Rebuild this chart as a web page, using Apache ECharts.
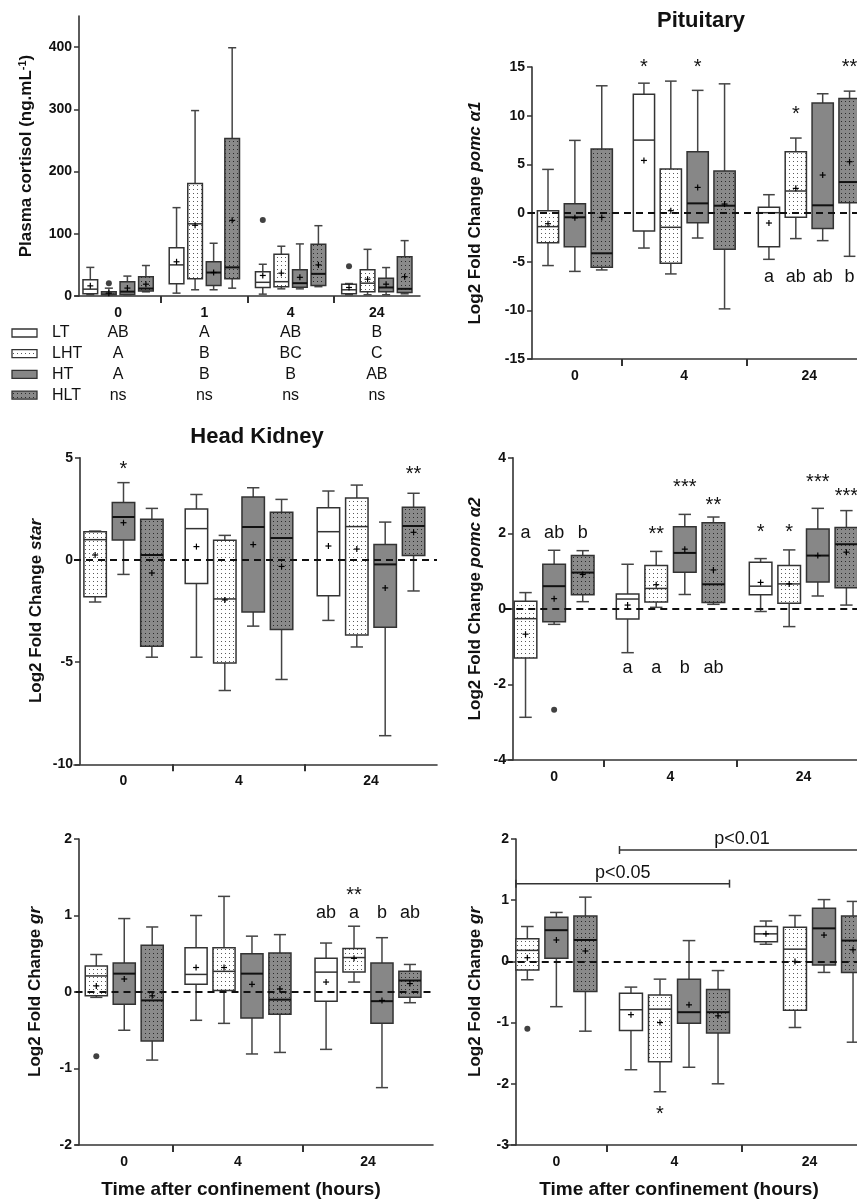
<!DOCTYPE html>
<html><head><meta charset="utf-8">
<script src="https://cdn.jsdelivr.net/npm/echarts@6/dist/echarts.min.js"></script>
<style>html,body{margin:0;padding:0;background:#fff}#c{width:857px;height:1201px}</style>
</head><body><div id="c"></div><script>
const FONT = "'Liberation Sans', Arial, Helvetica, sans-serif";
const TREAT = ['LT', 'LHT', 'HT', 'HLT'];

// Each box: [min, Q1, median, Q3, max, mean]; null = no box at that time
const cortisolTimes = ['0', '1', '4', '24'];
const cortisolLT  = [[2, 3.5, 11, 26, 46, 16.3], [4.6, 19.5, 50, 77.7, 142, 55], [3, 13.7, 22, 39, 51, 33], [2, 3.5, 10, 19, 20, 13.7]];
const cortisolLHT = [[2, 2, 4.6, 7, 12.6, 4.6], [10, 27.6, 116, 181, 298, 113.6], [11.5, 15, 23, 67, 80, 36.7], [2, 7, 20.6, 42, 75, 27]];
const cortisolHT  = [[2, 2.5, 7, 23, 32, 12.7], [10, 17, 37.7, 55, 84.8, 37.7], [11.5, 14, 20.6, 42, 83.7, 30], [2, 7, 13.7, 28.6, 45.7, 19]];
const cortisolHLT = [[6.7, 8, 12, 31, 49, 19], [12.6, 27.6, 46, 253, 399, 121.6], [15, 17, 35.6, 83, 113, 50], [3.5, 5.6, 11.5, 63, 89, 31]];
const cortisolOutliers = [[0, 1, 20.6], [2, 0, 122], [3, 0, 48]]; // [timeIdx, treatIdx, value]
const cortisolLetters = [['AB', 'A', 'AB', 'B'], ['A', 'B', 'BC', 'C'], ['A', 'B', 'B', 'AB'], ['ns', 'ns', 'ns', 'ns']];

const logTimes = ['0', '4', '24'];

const pomcA1LT  = [null, [-3.6, -1.85, 7.49, 12.2, 13.34, 5.4], [-4.76, -3.46, 0.03, 0.58, 1.88, -1.03]];
const pomcA1LHT = [[-5.4, -3.05, -1.4, 0.24, 4.48, -1.1], [-6.26, -5.17, -1.47, 4.52, 13.55, 0.24], [-2.63, -0.44, 2.26, 6.3, 7.7, 2.53]];
const pomcA1HT  = [[-6.0, -3.46, -0.44, 0.96, 7.46, -0.5], [-2.57, -1.0, 0.99, 6.3, 12.6, 2.63], [-2.84, -1.6, 0.79, 11.29, 12.25, 3.9]];
const pomcA1HLT = [[-5.85, -5.58, -4.14, 6.57, 13.07, -0.45], [-9.85, -3.73, 0.75, 4.31, 13.27, 0.92], [-4.45, 1.06, 3.18, 11.77, 12.52, 5.27]];
const pomcA1Notes = [[1, 0, 15.4, '*'], [1, 2, 15.4, '*'], [2, 1, 10.6, '*'], [2, 3, 15.4, '**'],
  [2, 0, -6.57, 'a'], [2, 1, -6.57, 'ab'], [2, 2, -6.57, 'ab'], [2, 3, -6.57, 'b']];

const starLT  = [null, [-4.76, -1.15, 1.53, 2.49, 3.2, 0.65], [-2.96, -1.75, 1.38, 2.55, 3.37, 0.68]];
const starLHT = [[-2.06, -1.8, 0.99, 1.38, 1.41, 0.24], [-6.39, -5.04, -1.91, 0.96, 1.2, -1.96], [-4.26, -3.67, 1.63, 3.03, 3.66, 0.53]];
const starHT  = [[-0.71, 0.97, 2.1, 2.81, 3.78, 1.82], [-3.24, -2.55, 1.61, 3.08, 3.53, 0.75], [-8.6, -3.3, -0.22, 0.75, 1.85, -1.37]];
const starHLT = [[-4.76, -4.23, 0.24, 1.99, 2.52, -0.64], [-5.85, -3.41, 1.07, 2.33, 2.96, -0.32], [-1.52, 0.21, 1.66, 2.57, 3.26, 1.35]];
const starNotes = [[0, 2, 4.66, '*'], [2, 3, 4.41, '**']];

const pomcA2LT  = [null, [-1.16, -0.27, 0.26, 0.39, 1.18, 0.1], [-0.07, 0.37, 0.6, 1.23, 1.33, 0.7]];
const pomcA2LHT = [[-2.87, -1.3, -0.26, 0.2, 0.43, -0.67], [0.04, 0.18, 0.54, 1.15, 1.52, 0.64], [-0.47, 0.15, 0.66, 1.15, 1.56, 0.66]];
const pomcA2HT  = [[-0.41, -0.34, 0.6, 1.18, 1.55, 0.27], [0.38, 0.97, 1.48, 2.17, 2.5, 1.58], [0.34, 0.71, 1.41, 2.11, 2.66, 1.41]];
const pomcA2HLT = [[0.19, 0.37, 0.96, 1.41, 1.54, 0.91], [0.12, 0.17, 0.65, 2.28, 2.43, 1.03], [0.1, 0.56, 1.71, 2.15, 2.6, 1.5]];
const pomcA2Outliers = [[0, 2, -2.67]];
const pomcA2Notes = [[0, 1, 2.01, 'a'], [0, 2, 2.01, 'ab'], [0, 3, 2.01, 'b'],
  [1, 1, 2.09, '**'], [1, 2, 3.33, '***'], [1, 3, 2.86, '**'],
  [2, 0, 2.14, '*'], [2, 1, 2.14, '*'], [2, 2, 3.47, '***'], [2, 3, 3.1, '***'],
  [1, 0, -1.56, 'a'], [1, 1, -1.56, 'a'], [1, 2, -1.56, 'b'], [1, 3, -1.56, 'ab']];

const grHKLT  = [null, [-0.37, 0.1, 0.23, 0.58, 1.0, 0.32], [-0.75, -0.12, 0.26, 0.44, 0.64, 0.13]];
const grHKLHT = [[-0.07, -0.05, 0.21, 0.34, 0.49, 0.08], [-0.41, 0.02, 0.27, 0.58, 1.25, 0.32], [0.13, 0.26, 0.45, 0.57, 0.86, 0.44]];
const grHKHT  = [[-0.5, -0.16, 0.24, 0.38, 0.96, 0.17], [-0.81, -0.34, 0.24, 0.5, 0.73, 0.1], [-1.25, -0.41, -0.12, 0.38, 0.71, -0.11]];
const grHKHLT = [[-0.89, -0.64, -0.11, 0.61, 0.85, -0.05], [-0.79, -0.29, -0.1, 0.51, 0.75, 0.04], [-0.14, -0.07, 0.15, 0.27, 0.36, 0.11]];
const grHKOutliers = [[0, 1, -0.84]];
const grHKNotes = [[2, 0, 1.03, 'ab'], [2, 1, 1.03, 'a'], [2, 2, 1.03, 'b'], [2, 3, 1.03, 'ab'], [2, 1, 1.32, '**']];

const grPitLT  = [null, [-1.77, -1.13, -0.79, -0.52, -0.42, -0.87], [0.28, 0.32, 0.45, 0.57, 0.66, 0.45]];
const grPitLHT = [[-0.3, -0.14, 0.18, 0.37, 0.57, 0.06], [-2.13, -1.64, -0.78, -0.55, -0.29, -1.0], [-1.08, -0.8, 0.2, 0.56, 0.75, 0.0]];
const grPitHT  = [[-0.74, 0.05, 0.51, 0.72, 0.8, 0.35], [-1.73, -1.01, -0.83, -0.29, 0.34, -0.71], [-0.18, -0.06, 0.54, 0.87, 1.01, 0.43]];
const grPitHLT = [[-1.14, -0.49, 0.35, 0.74, 1.05, 0.17], [-2.0, -1.17, -0.83, -0.46, -0.15, -0.89], [-1.32, -0.18, 0.34, 0.74, 0.98, 0.19]];
const grPitOutliers = [[0, 1, -1.1]];
const grPitNotes = [[1, 1, -2.43, '*']];
// [fromTime, fromTreat, toTime, toTreat, y, text]
const grPitBrackets = [[0, 1, 1, 3, 1.27, 'p<0.05'], [1, 0, 2, 3, 1.82, 'p<0.01']];

// ---------- styling / layout ----------
const SPACING = 0.86, BOX_W = 0.68;
function pat(bg, dot) {
  const c = document.createElement('canvas'); c.width = 4; c.height = 4;
  const g = c.getContext('2d'); g.fillStyle = bg; g.fillRect(0, 0, 4, 4);
  g.fillStyle = dot; g.fillRect(1, 1, 1, 1);
  return { image: c, repeat: 'repeat' };
}
const STYLE = [
  { fill: '#ffffff', stroke: '#333', med: '#333', medW: 1.5 },
  { fill: pat('#ffffff', '#5a5a5a'), stroke: '#333', med: '#333', medW: 1.5 },
  { fill: '#878787', stroke: '#333', med: '#111', medW: 2 },
  { fill: pat('#8a8a8a', '#2a2a2a'), stroke: '#333', med: '#111', medW: 2 }
];

const panels = [
  { times: cortisolTimes, series: [cortisolLT, cortisolLHT, cortisolHT, cortisolHLT], outliers: cortisolOutliers, notes: [], brackets: [],
    left: 75, slot: 21.56, top: 16, height: 280, yMin: 0, yMax: 450, yInt: 100, yOff: -4, nameGap: 44.5,
    name: 'Plasma cortisol (ng.mL{sup|-1})', zero: false, letters: cortisolLetters },
  { times: logTimes, series: [pomcA1LT, pomcA1LHT, pomcA1HT, pomcA1HLT], outliers: [], notes: pomcA1Notes, brackets: [],
    left: 528, slot: 31.25, top: 67, height: 292, yMin: -15, yMax: 15, yInt: 5, yOff: -4, nameGap: 48.5,
    name: 'Log2 Fold Change {i|pomc α1}', zero: true },
  { times: logTimes, series: [starLT, starLHT, starHT, starHLT], outliers: [], notes: starNotes, brackets: [],
    left: 74, slot: 33, top: 457.7, height: 306.6, yMin: -10, yMax: 5, yInt: 5, yOff: -6, nameGap: 35.5,
    name: 'Log2 Fold Change {i|star}', zero: true },
  { times: logTimes, series: [pomcA2LT, pomcA2LHT, pomcA2HT, pomcA2HLT], outliers: pomcA2Outliers, notes: pomcA2Notes, brackets: [],
    left: 504.25, slot: 33.25, top: 457.7, height: 302.3, yMin: -4, yMax: 4, yInt: 2, yOff: -8.75, nameGap: 29.5,
    name: 'Log2 Fold Change {i|pomc α2}', zero: true },
  { times: logTimes, series: [grHKLT, grHKLHT, grHKHT, grHKHLT], outliers: grHKOutliers, notes: grHKNotes, brackets: [],
    left: 75.5, slot: 32.5, top: 839, height: 306, yMin: -2, yMax: 2, yInt: 1, yOff: -3.5, nameGap: 35,
    name: 'Log2 Fold Change {i|gr}', zero: true },
  { times: logTimes, series: [grPitLT, grPitLHT, grPitHT, grPitHLT], outliers: grPitOutliers, notes: grPitNotes, brackets: grPitBrackets,
    left: 505.75, slot: 33.75, top: 839, height: 306, yMin: -3, yMax: 2, yInt: 1, yOff: -10.25, nameGap: 32.5,
    name: 'Log2 Fold Change {i|gr}', zero: true }
];

function layoutGroups(series) {
  const groups = []; let start = 0;
  for (let t = 0; t < series[0].length; t++) {
    const present = [];
    for (let k = 0; k < 4; k++) if (series[k][t]) present.push(k);
    groups.push({ start, n: present.length, present });
    start += present.length;
  }
  return { groups, total: start };
}
function boxPos(lay, t, k) {
  const g = lay.groups[t]; const j = g.present.indexOf(k);
  return g.start + g.n / 2 + (j - (g.n - 1) / 2) * SPACING;
}
function groupCenter(lay, t) { const g = lay.groups[t]; return g.start + g.n / 2; }

function line(x1, y1, x2, y2, stroke, lw, dash) {
  return { type: 'line', shape: { x1, y1, x2, y2 }, style: { stroke, lineWidth: lw, lineDash: dash || null } };
}
function renderBox(params, api) {
  const x = api.value(0);
  const P = v => api.coord([x, v]);
  const mn = P(api.value(1)), q1 = P(api.value(2)), md = P(api.value(3)), q3 = P(api.value(4)), mx = P(api.value(5)), mean = P(api.value(6));
  const st = STYLE[api.value(7)];
  const w = api.size([BOX_W, 0])[0]; const cw = w * 0.55; const cx = mn[0];
  return { type: 'group', children: [
    line(cx, q3[1], cx, mx[1], '#444', 1.5),
    line(cx - cw / 2, mx[1], cx + cw / 2, mx[1], '#444', 1.5),
    line(cx, q1[1], cx, mn[1], '#444', 1.5),
    line(cx - cw / 2, mn[1], cx + cw / 2, mn[1], '#444', 1.5),
    { type: 'rect', shape: { x: cx - w / 2, y: q3[1], width: w, height: q1[1] - q3[1] }, style: { fill: st.fill, stroke: st.stroke, lineWidth: 1.5 } },
    line(cx - w / 2, md[1], cx + w / 2, md[1], st.med, st.medW),
    line(mean[0] - 3, mean[1], mean[0] + 3, mean[1], '#000', 1.2),
    line(mean[0], mean[1] - 3, mean[0], mean[1] + 3, '#000', 1.2)
  ] };
}

const grid = [], xAxis = [], yAxis = [], series = [];
panels.forEach((p, i) => {
  const lay = layoutGroups(p.series);
  const N = lay.total * 2;
  const cats = new Array(N + 1).fill('');
  const tickIdx = new Set();
  lay.groups.forEach((g, t) => {
    cats[2 * g.start + g.n] = p.times[t];
    if (t < lay.groups.length - 1) tickIdx.add(2 * (g.start + g.n));
  });
  grid.push({ left: p.left, top: p.top, width: lay.total * p.slot, height: p.height, containLabel: false, outerBoundsMode: 'none' });
  xAxis.push({
    type: 'category', gridIndex: i, data: cats, boundaryGap: false, position: 'bottom',
    axisLine: { onZero: false, lineStyle: { color: '#333', width: 1.6 } },
    axisTick: { show: true, length: 7, interval: (idx) => tickIdx.has(idx), lineStyle: { color: '#333', width: 2 } },
    axisLabel: { interval: 0, margin: 10, color: '#111', fontFamily: FONT, fontWeight: 'bold', fontSize: 14 },
    splitLine: { show: false }
  });
  xAxis.push({ type: 'value', gridIndex: i, min: 0, max: lay.total, show: false, axisLine: { onZero: false } });
  yAxis.push({
    type: 'value', gridIndex: i, min: p.yMin, max: p.yMax, interval: p.yInt, offset: p.yOff,
    name: p.name, nameLocation: 'middle', nameGap: p.nameGap, nameRotate: 90,
    nameTextStyle: { fontFamily: FONT, fontWeight: 'bold', fontSize: 17, color: '#111',
      rich: { i: { fontFamily: FONT, fontWeight: 'bold', fontStyle: 'italic', fontSize: 17, color: '#111' },
              sup: { fontFamily: FONT, fontWeight: 'bold', fontSize: 11, color: '#111', verticalAlign: 'top' } } },
    axisLine: { show: true, onZero: false, lineStyle: { color: '#333', width: 1.6 } },
    axisTick: { show: true, length: 5, lineStyle: { color: '#333', width: 1.5 } },
    axisLabel: { margin: 7, color: '#111', fontFamily: FONT, fontWeight: 'bold', fontSize: 14, showMaxLabel: p.yMax % p.yInt === 0 },
    splitLine: { show: false }
  });
  const xi = 2 * i + 1;
  // boxes
  const boxData = [];
  p.series.forEach((arr, k) => arr.forEach((b, t) => {
    if (b) boxData.push([boxPos(lay, t, k), b[0], b[1], b[2], b[3], b[4], b[5], k]);
  }));
  series.push({ type: 'custom', xAxisIndex: xi, yAxisIndex: i, data: boxData, renderItem: renderBox,
    encode: { x: 0, y: [1, 2, 3, 4, 5] }, clip: false, z: 2, silent: true });
  // outliers
  if (p.outliers.length) {
    series.push({ type: 'scatter', xAxisIndex: xi, yAxisIndex: i, symbol: 'circle', symbolSize: 6,
      itemStyle: { color: '#111' }, silent: true, z: 3,
      data: p.outliers.map(o => [boxPos(lay, o[0], o[1]), o[2]]) });
  }
  // notes + zero line
  const notes = p.notes;
  const noteSeries = { type: 'custom', xAxisIndex: xi, yAxisIndex: i, clip: false, z: 6, silent: true,
    data: notes.map(n => [boxPos(lay, n[0], n[1]), n[2]]), encode: { x: 0, y: 1 },
    renderItem: (params, api) => {
      const n = notes[params.dataIndex];
      const pt = api.coord([api.value(0), api.value(1)]);
      const star = n[3].indexOf('*') >= 0;
      const fs = star ? 20 : 18;
      return { type: 'text', x: pt[0], y: pt[1] + (star ? fs * 0.22 : 0),
        style: { text: n[3], font: fs + 'px ' + FONT, fill: '#111', align: 'center', verticalAlign: 'middle' } };
    } };
  if (p.zero) {
    noteSeries.markLine = { silent: true, symbol: ['none', 'none'], label: { show: false },
      lineStyle: { type: [7, 5], color: '#111', width: 2 }, data: [{ yAxis: 0 }], animation: false };
  }
  series.push(noteSeries);
  // brackets
  if (p.brackets.length) {
    const br = p.brackets;
    series.push({ type: 'custom', xAxisIndex: xi, yAxisIndex: i, clip: false, z: 6, silent: true,
      data: br.map(b => [boxPos(lay, b[0], b[1]) - BOX_W / 2, boxPos(lay, b[2], b[3]) + BOX_W / 2, b[4]]),
      encode: { x: [0, 1], y: 2 },
      renderItem: (params, api) => {
        const b = br[params.dataIndex];
        const a = api.coord([api.value(0), api.value(2)]);
        const c = api.coord([api.value(1), api.value(2)]);
        return { type: 'group', children: [
          line(a[0], a[1], c[0], c[1], '#333', 1.5),
          line(a[0], a[1] - 4, a[0], a[1] + 4, '#333', 1.5),
          line(c[0], c[1] - 4, c[0], c[1] + 4, '#333', 1.5),
          { type: 'text', x: (a[0] + c[0]) / 2, y: a[1] - 2,
            style: { text: b[5], font: '18px ' + FONT, fill: '#111', align: 'center', verticalAlign: 'bottom' } }
        ] };
      } });
  }
  // cortisol significance letters table
  if (p.letters) {
    const L = p.letters; const data = [];
    L.forEach((row, r) => row.forEach((txt, t) => data.push([groupCenter(lay, t), r, t])));
    series.push({ type: 'custom', xAxisIndex: xi, yAxisIndex: i, clip: false, z: 6, silent: true,
      data, encode: { x: 0 },
      renderItem: (params, api) => {
        const r = api.value(1), t = api.value(2);
        const base = api.coord([api.value(0), 0]);
        return { type: 'text', x: base[0], y: base[1] + 37 + r * 20.7,
          style: { text: L[r][t], font: '16px ' + FONT, fill: '#111', align: 'center', verticalAlign: 'middle' } };
      } });
  }
});

// titles, x-axis titles and legend swatches
const graphic = [
  { type: 'text', x: 701, y: 21, style: { text: 'Pituitary', font: 'bold 22px ' + FONT, fill: '#111', align: 'center', verticalAlign: 'middle' } },
  { type: 'text', x: 257, y: 437, style: { text: 'Head Kidney', font: 'bold 22px ' + FONT, fill: '#111', align: 'center', verticalAlign: 'middle' } },
  { type: 'text', x: 241, y: 1190, style: { text: 'Time after confinement (hours)', font: 'bold 19px ' + FONT, fill: '#111', align: 'center', verticalAlign: 'middle' } },
  { type: 'text', x: 679, y: 1190, style: { text: 'Time after confinement (hours)', font: 'bold 19px ' + FONT, fill: '#111', align: 'center', verticalAlign: 'middle' } }
];
TREAT.forEach((name, r) => {
  const cy = 333 + r * 20.7;
  graphic.push({ type: 'rect', shape: { x: 12, y: cy - 4, width: 25, height: 8 }, style: { fill: STYLE[r].fill, stroke: '#333', lineWidth: 1.3 } });
  graphic.push({ type: 'text', x: 52, y: cy, style: { text: name, font: '16px ' + FONT, fill: '#111', align: 'left', verticalAlign: 'middle' } });
});

const chart = echarts.init(document.getElementById('c'), null, { renderer: 'canvas' });
chart.setOption({ animation: false, backgroundColor: '#fff', grid, xAxis, yAxis, series, graphic });
</script></body></html>
